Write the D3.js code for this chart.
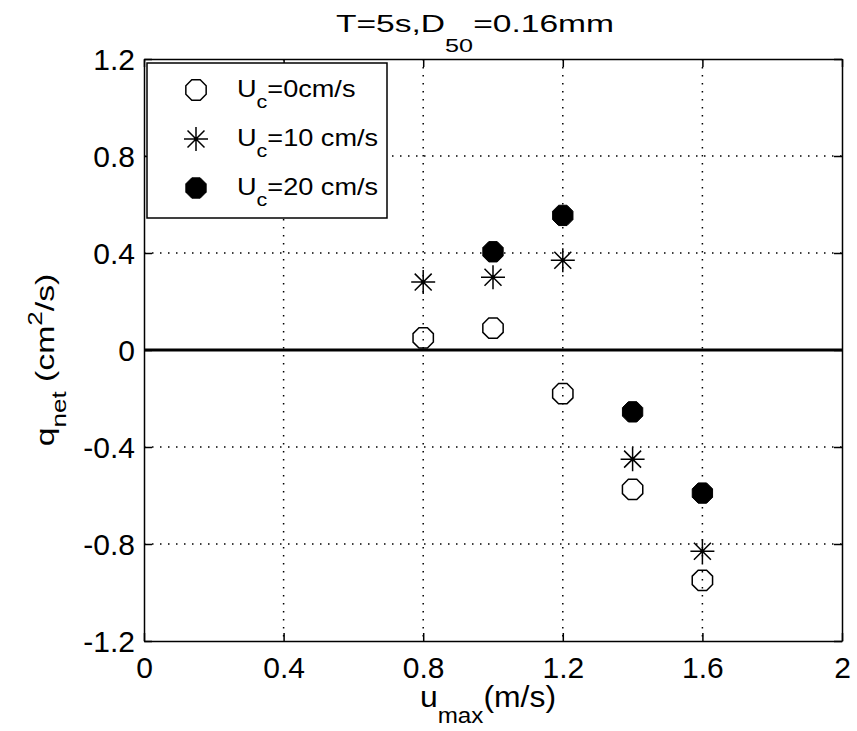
<!DOCTYPE html>
<html>
<head>
<meta charset="utf-8">
<script src="https://cdn.jsdelivr.net/npm/d3@7"></script>
<style>
  body { margin: 0; background: #fff; }
  svg { display: block; font-family: "Liberation Sans", Arial, sans-serif; }
</style>
</head>
<body>
<div class="chart"></div>
<script>
// Data
var uMax = [0.8, 1.0, 1.2, 1.4, 1.6];
var qUc0 = [0.05, 0.09, -0.18, -0.575, -0.95];
var qUc10 = [0.28, 0.30, 0.37, -0.45, -0.83];
var qUc20 = [null, 0.405, 0.555, -0.255, -0.59];
var xTicks = [0, 0.4, 0.8, 1.2, 1.6, 2];
var yTicks = [-1.2, -0.8, -0.4, 0, 0.4, 0.8, 1.2];
var seriesNames = ["0cm/s", "10 cm/s", "20 cm/s"];

// Configuration
var width = 857;
var height = 731;
var margin = {top: 59, right: 15, bottom: 90, left: 144};
var w = width - margin.left - margin.right;
var h = height - margin.top - margin.bottom;

var svg = d3.select(".chart").append("svg")
    .attr("width", width)
    .attr("height", height);

var g = svg.append("g")
    .attr("transform", "translate(" + margin.left + "," + margin.top + ")");

var x = d3.scaleLinear().domain([0, 2]).range([0, w]);
var y = d3.scaleLinear().domain([-1.2, 1.2]).range([h, 0]);

// dotted grid
g.selectAll("line.gx")
    .data(xTicks.slice(1, -1))
    .enter().append("line")
    .attr("class", "gx")
    .attr("x1", d => x(d)).attr("x2", d => x(d))
    .attr("y1", 0).attr("y2", h)
    .attr("stroke", "#000").attr("stroke-width", 1.5)
    .attr("stroke-dasharray", "1.5,6.5");
g.selectAll("line.gy")
    .data(yTicks.slice(1, -1))
    .enter().append("line")
    .attr("class", "gy")
    .attr("x1", 0).attr("x2", w)
    .attr("y1", d => y(d)).attr("y2", d => y(d))
    .attr("stroke", "#000").attr("stroke-width", 1.5)
    .attr("stroke-dasharray", "1.5,6.5");

// axes with inward ticks on all four sides
var tickFmt = d => d === 0 ? "0" : d3.format(".1f")(d).replace(/\.0$/, "").replace("\u2212", "-");
var axB = g.append("g").attr("transform", "translate(0," + h + ")")
    .call(d3.axisBottom(x).tickValues(xTicks).tickSizeInner(-8).tickSizeOuter(0).tickPadding(15).tickFormat(tickFmt));
var axT = g.append("g")
    .call(d3.axisTop(x).tickValues(xTicks).tickSizeInner(-8).tickSizeOuter(0).tickFormat(""));
var axL = g.append("g")
    .call(d3.axisLeft(y).tickValues(yTicks).tickSizeInner(-8).tickSizeOuter(0).tickPadding(9).tickFormat(tickFmt));
var axR = g.append("g").attr("transform", "translate(" + w + ",0)")
    .call(d3.axisRight(y).tickValues(yTicks).tickSizeInner(-8).tickSizeOuter(0).tickFormat(""));

[axB, axT, axL, axR].forEach(function(a) {
  a.select(".domain").attr("stroke", "#000").attr("stroke-width", 1.5);
  a.selectAll(".tick line").attr("stroke", "#000").attr("stroke-width", 1.5);
  a.selectAll("text").attr("fill", "#000").style("font-size", "30px")
      .style("font-family", "'Liberation Sans', Arial, sans-serif");
});
axB.selectAll("text").attr("dy", "0.72em");
axL.selectAll("text").attr("dy", "0.36em");

// zero line
g.append("line")
    .attr("x1", x(0)).attr("x2", x(2))
    .attr("y1", y(0)).attr("y2", y(0))
    .attr("stroke", "#000").attr("stroke-width", 3);

// marker shapes
var oct = d3.range(8).map(function(i) {
  var a = Math.PI / 8 + i * Math.PI / 4;
  return [11 * Math.cos(a), 11 * Math.sin(a)];
});
var octPath = "M" + oct.map(p => p.join(",")).join("L") + "Z";
var starPath = d3.range(4).map(function(i) {
  var a = i * Math.PI / 4, r = 12;
  return "M" + (-r * Math.cos(a)) + "," + (-r * Math.sin(a)) + "L" + (r * Math.cos(a)) + "," + (r * Math.sin(a));
}).join("");

function drawOpen(sel) {
  sel.append("path").attr("d", octPath).attr("fill", "none")
      .attr("stroke", "#000").attr("stroke-width", 1.5);
}
function drawStar(sel) {
  sel.append("path").attr("d", starPath).attr("fill", "none")
      .attr("stroke", "#000").attr("stroke-width", 1.5);
  sel.append("circle").attr("r", 2).attr("fill", "#000");
}
function drawFilled(sel) {
  sel.append("path").attr("d", octPath).attr("fill", "#000")
      .attr("stroke", "#000").attr("stroke-width", 1);
}

function plotSeries(vals, drawer) {
  var pts = uMax.map((u, i) => ({u: u, q: vals[i]})).filter(d => d.q !== null);
  g.selectAll(null)
      .data(pts)
      .enter().append("g")
      .attr("transform", d => "translate(" + x(d.u) + "," + y(d.q) + ")")
      .call(drawer);
}
plotSeries(qUc0, drawOpen);
plotSeries(qUc10, drawStar);
plotSeries(qUc20, drawFilled);

// legend
var leg = g.append("g").attr("transform", "translate(3,4)");
leg.append("rect")
    .attr("width", 240).attr("height", 155)
    .attr("fill", "#fff").attr("stroke", "#000").attr("stroke-width", 1.5);
var drawers = [drawOpen, drawStar, drawFilled];
seriesNames.forEach(function(name, i) {
  var row = leg.append("g").attr("transform", "translate(0," + (27 + i * 49) + ")");
  row.append("g").attr("transform", "translate(49,0)").call(drawers[i]);
  var t = row.append("text").attr("transform", "translate(90,7) scale(1.13,1)")
      .style("font-size", "24px").attr("fill", "#000");
  t.append("tspan").text("U");
  t.append("tspan").attr("dy", 11).style("font-size", "19px").text("c");
  t.append("tspan").attr("dy", -11).text("=" + name);
});

// title (MATLAB renders it stretched)
var title = svg.append("text")
    .attr("transform", "translate(475,32) scale(1.4,1)")
    .attr("text-anchor", "middle").style("font-size", "24px").attr("fill", "#000");
title.append("tspan").text("T=5s,D");
title.append("tspan").attr("dy", 20).style("font-size", "18px").text("50");
title.append("tspan").attr("dy", -20).text("=0.16mm");

// x label
var xl = svg.append("text")
    .attr("transform", "translate(488,707) scale(1.1,1)")
    .attr("text-anchor", "middle").style("font-size", "29px").attr("fill", "#000");
xl.append("tspan").text("u");
xl.append("tspan").attr("dy", 16).style("font-size", "22px").text("max");
xl.append("tspan").attr("dy", -16).text("(m/s)");

// y label
var yl = svg.append("text")
    .attr("transform", "translate(54,360) rotate(-90) scale(1.3,1)")
    .attr("text-anchor", "middle").style("font-size", "26px").attr("fill", "#000");
yl.append("tspan").text("q");
yl.append("tspan").attr("dy", 12).style("font-size", "20px").text("net");
yl.append("tspan").attr("dy", -12).text(" (cm");
yl.append("tspan").attr("dy", -12).style("font-size", "20px").text("2");
yl.append("tspan").attr("dy", 12).text("/s)");
</script>
</body>
</html>
